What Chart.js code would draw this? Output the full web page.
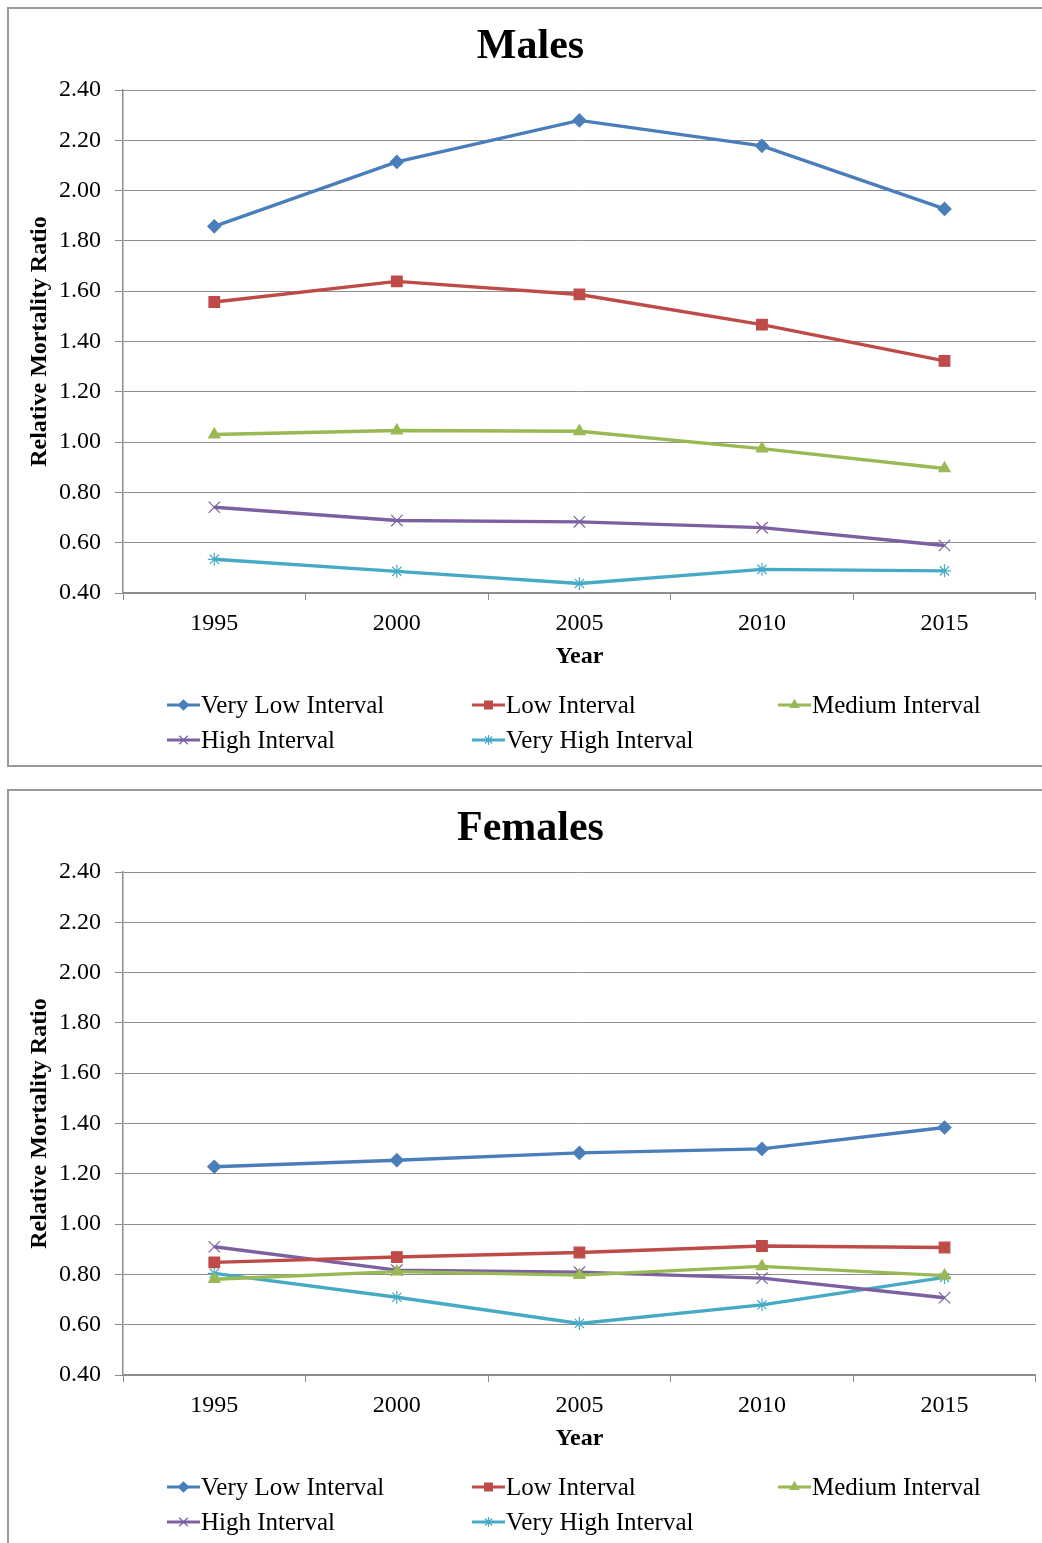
<!DOCTYPE html>
<html>
<head>
<meta charset="utf-8">
<script src="https://cdn.jsdelivr.net/npm/chart.js@4/dist/chart.umd.min.js"></script>
<style>
  html, body { margin: 0; padding: 0; background: #fff; overflow: hidden; }
  body { width: 1042px; height: 1543px; position: relative; }
  .box { position: absolute; left: 7px; width: 1036px; height: 756px; border: 2px solid #9a9a9a; background: #fff; }
  #boxMales { top: 7px; }
  #boxFemales { top: 789px; }
  canvas { display: block; }
</style>
</head>
<body>
<div class="box" id="boxMales"><canvas id="males" width="1036" height="756"></canvas></div>
<div class="box" id="boxFemales"><canvas id="females" width="1036" height="756"></canvas></div>
<script>
// Survey years on the x axis
const years = ['1995', '2000', '2005', '2010', '2015'];

// Interval groups (legend order)
const intervalNames = ['Very Low Interval', 'Low Interval', 'Medium Interval', 'High Interval', 'Very High Interval'];

// Relative mortality ratio, males
const maleVeryLow  = [1.858, 2.114, 2.279, 2.178, 1.927];
const maleLow      = [1.557, 1.639, 1.587, 1.467, 1.323];
const maleMedium   = [1.030, 1.046, 1.043, 0.974, 0.895];
const maleHigh     = [0.741, 0.688, 0.683, 0.660, 0.589];
const maleVeryHigh = [0.534, 0.486, 0.438, 0.494, 0.488];

// Relative mortality ratio, females
const femaleVeryLow  = [1.228, 1.254, 1.283, 1.299, 1.384];
const femaleLow      = [0.848, 0.869, 0.887, 0.913, 0.907];
const femaleMedium   = [0.781, 0.811, 0.797, 0.832, 0.795];
const femaleHigh     = [0.910, 0.817, 0.809, 0.785, 0.707];
const femaleVeryHigh = [0.804, 0.709, 0.605, 0.679, 0.788];

// y-axis range and step
const yMin = 0.4, yMax = 2.4, yStep = 0.2;

const seriesColors = ['#4a7ebb', '#be4b48', '#98b954', '#7d60a0', '#46aac5'];
const seriesMarkers = ['rectRot', 'rect', 'triangle', 'crossRot', 'star'];
const seriesRadius = [6.5, 7.5, 6.5, 8, 6.5];
const legendRadius = [5, 5.5, 5, 6, 5];

Chart.defaults.font.family = "'Liberation Serif', 'Times New Roman', serif";
Chart.defaults.color = '#000';

const gridGray = '#8c8c8c';

// Three-column legend drawn under the x axis title
const gridLegend = {
  id: 'gridLegend',
  afterDraw(chart) {
    const ctx = chart.ctx;
    const colX = [158, 463, 769];
    const base = chart.chartArea.bottom + 112;
    const rowGap = 35;
    ctx.save();
    chart.data.datasets.forEach((ds, i) => {
      const x0 = colX[i % 3];
      const y = base + Math.floor(i / 3) * rowGap;
      ctx.strokeStyle = ds.borderColor;
      ctx.lineWidth = 3;
      ctx.beginPath();
      ctx.moveTo(x0, y);
      ctx.lineTo(x0 + 33, y);
      ctx.stroke();
      ctx.fillStyle = ds.borderColor;
      ctx.strokeStyle = ds.borderColor;
      ctx.lineWidth = 1.2;
      Chart.helpers.drawPoint(ctx, { pointStyle: ds.pointStyle, radius: legendRadius[i], rotation: 0, borderWidth: 1.2 }, x0 + 16.5, y);
      ctx.fillStyle = '#000';
      ctx.font = "25px 'Liberation Serif', 'Times New Roman', serif";
      ctx.textBaseline = 'middle';
      ctx.textAlign = 'left';
      ctx.fillText(ds.label, x0 + 34, y + 1);
    });
    ctx.restore();
  }
};

function makeChart(canvasId, title, seriesValues) {
  const datasets = seriesValues.map((vals, i) => ({
    label: intervalNames[i],
    data: vals,
    borderColor: seriesColors[i],
    backgroundColor: seriesColors[i],
    pointBackgroundColor: seriesColors[i],
    pointBorderColor: seriesColors[i],
    pointStyle: seriesMarkers[i],
    pointRadius: seriesRadius[i],
    pointBorderWidth: 1.2,
    borderWidth: 3.4,
    tension: 0,
    fill: false
  }));
  return new Chart(document.getElementById(canvasId), {
    type: 'line',
    data: { labels: years, datasets },
    options: {
      responsive: false,
      animation: false,
      layout: { padding: { left: 13, right: 6, top: 0, bottom: 92 } },
      plugins: {
        legend: { display: false },
        tooltip: { enabled: false },
        title: {
          display: true,
          text: title,
          font: { size: 42, weight: 'bold' },
          color: '#000',
          padding: { top: 12.8, bottom: 17.8 }
        }
      },
      scales: {
        x: {
          type: 'category',
          offset: true,
          grid: { display: true, offset: true, drawOnChartArea: false, drawTicks: true, tickLength: 7, color: gridGray },
          border: { display: true, color: gridGray, width: 1.5 },
          ticks: { font: { size: 24 }, color: '#000', padding: 9, maxRotation: 0 },
          title: { display: true, text: 'Year', font: { size: 24, weight: 'bold' }, color: '#000', padding: { top: 0, bottom: 1.6 } },
          afterFit(scale) { scale.height = 80; }
        },
        y: {
          min: yMin,
          max: yMax,
          ticks: { stepSize: yStep, font: { size: 24 }, color: '#000', padding: 14, callback: v => Number(v).toFixed(2) },
          grid: { color: gridGray, tickLength: 8, drawTicks: true },
          border: { display: true, color: gridGray, width: 1.5 },
          title: { display: true, text: 'Relative Mortality Ratio', font: { size: 24, weight: 'bold' }, color: '#000', padding: { top: 3.6, bottom: 0 } },
          afterFit(scale) { scale.width = 101; }
        }
      }
    },
    plugins: [gridLegend]
  });
}

makeChart('males', 'Males', [maleVeryLow, maleLow, maleMedium, maleHigh, maleVeryHigh]);
makeChart('females', 'Females', [femaleVeryLow, femaleLow, femaleMedium, femaleHigh, femaleVeryHigh]);
</script>
</body>
</html>
